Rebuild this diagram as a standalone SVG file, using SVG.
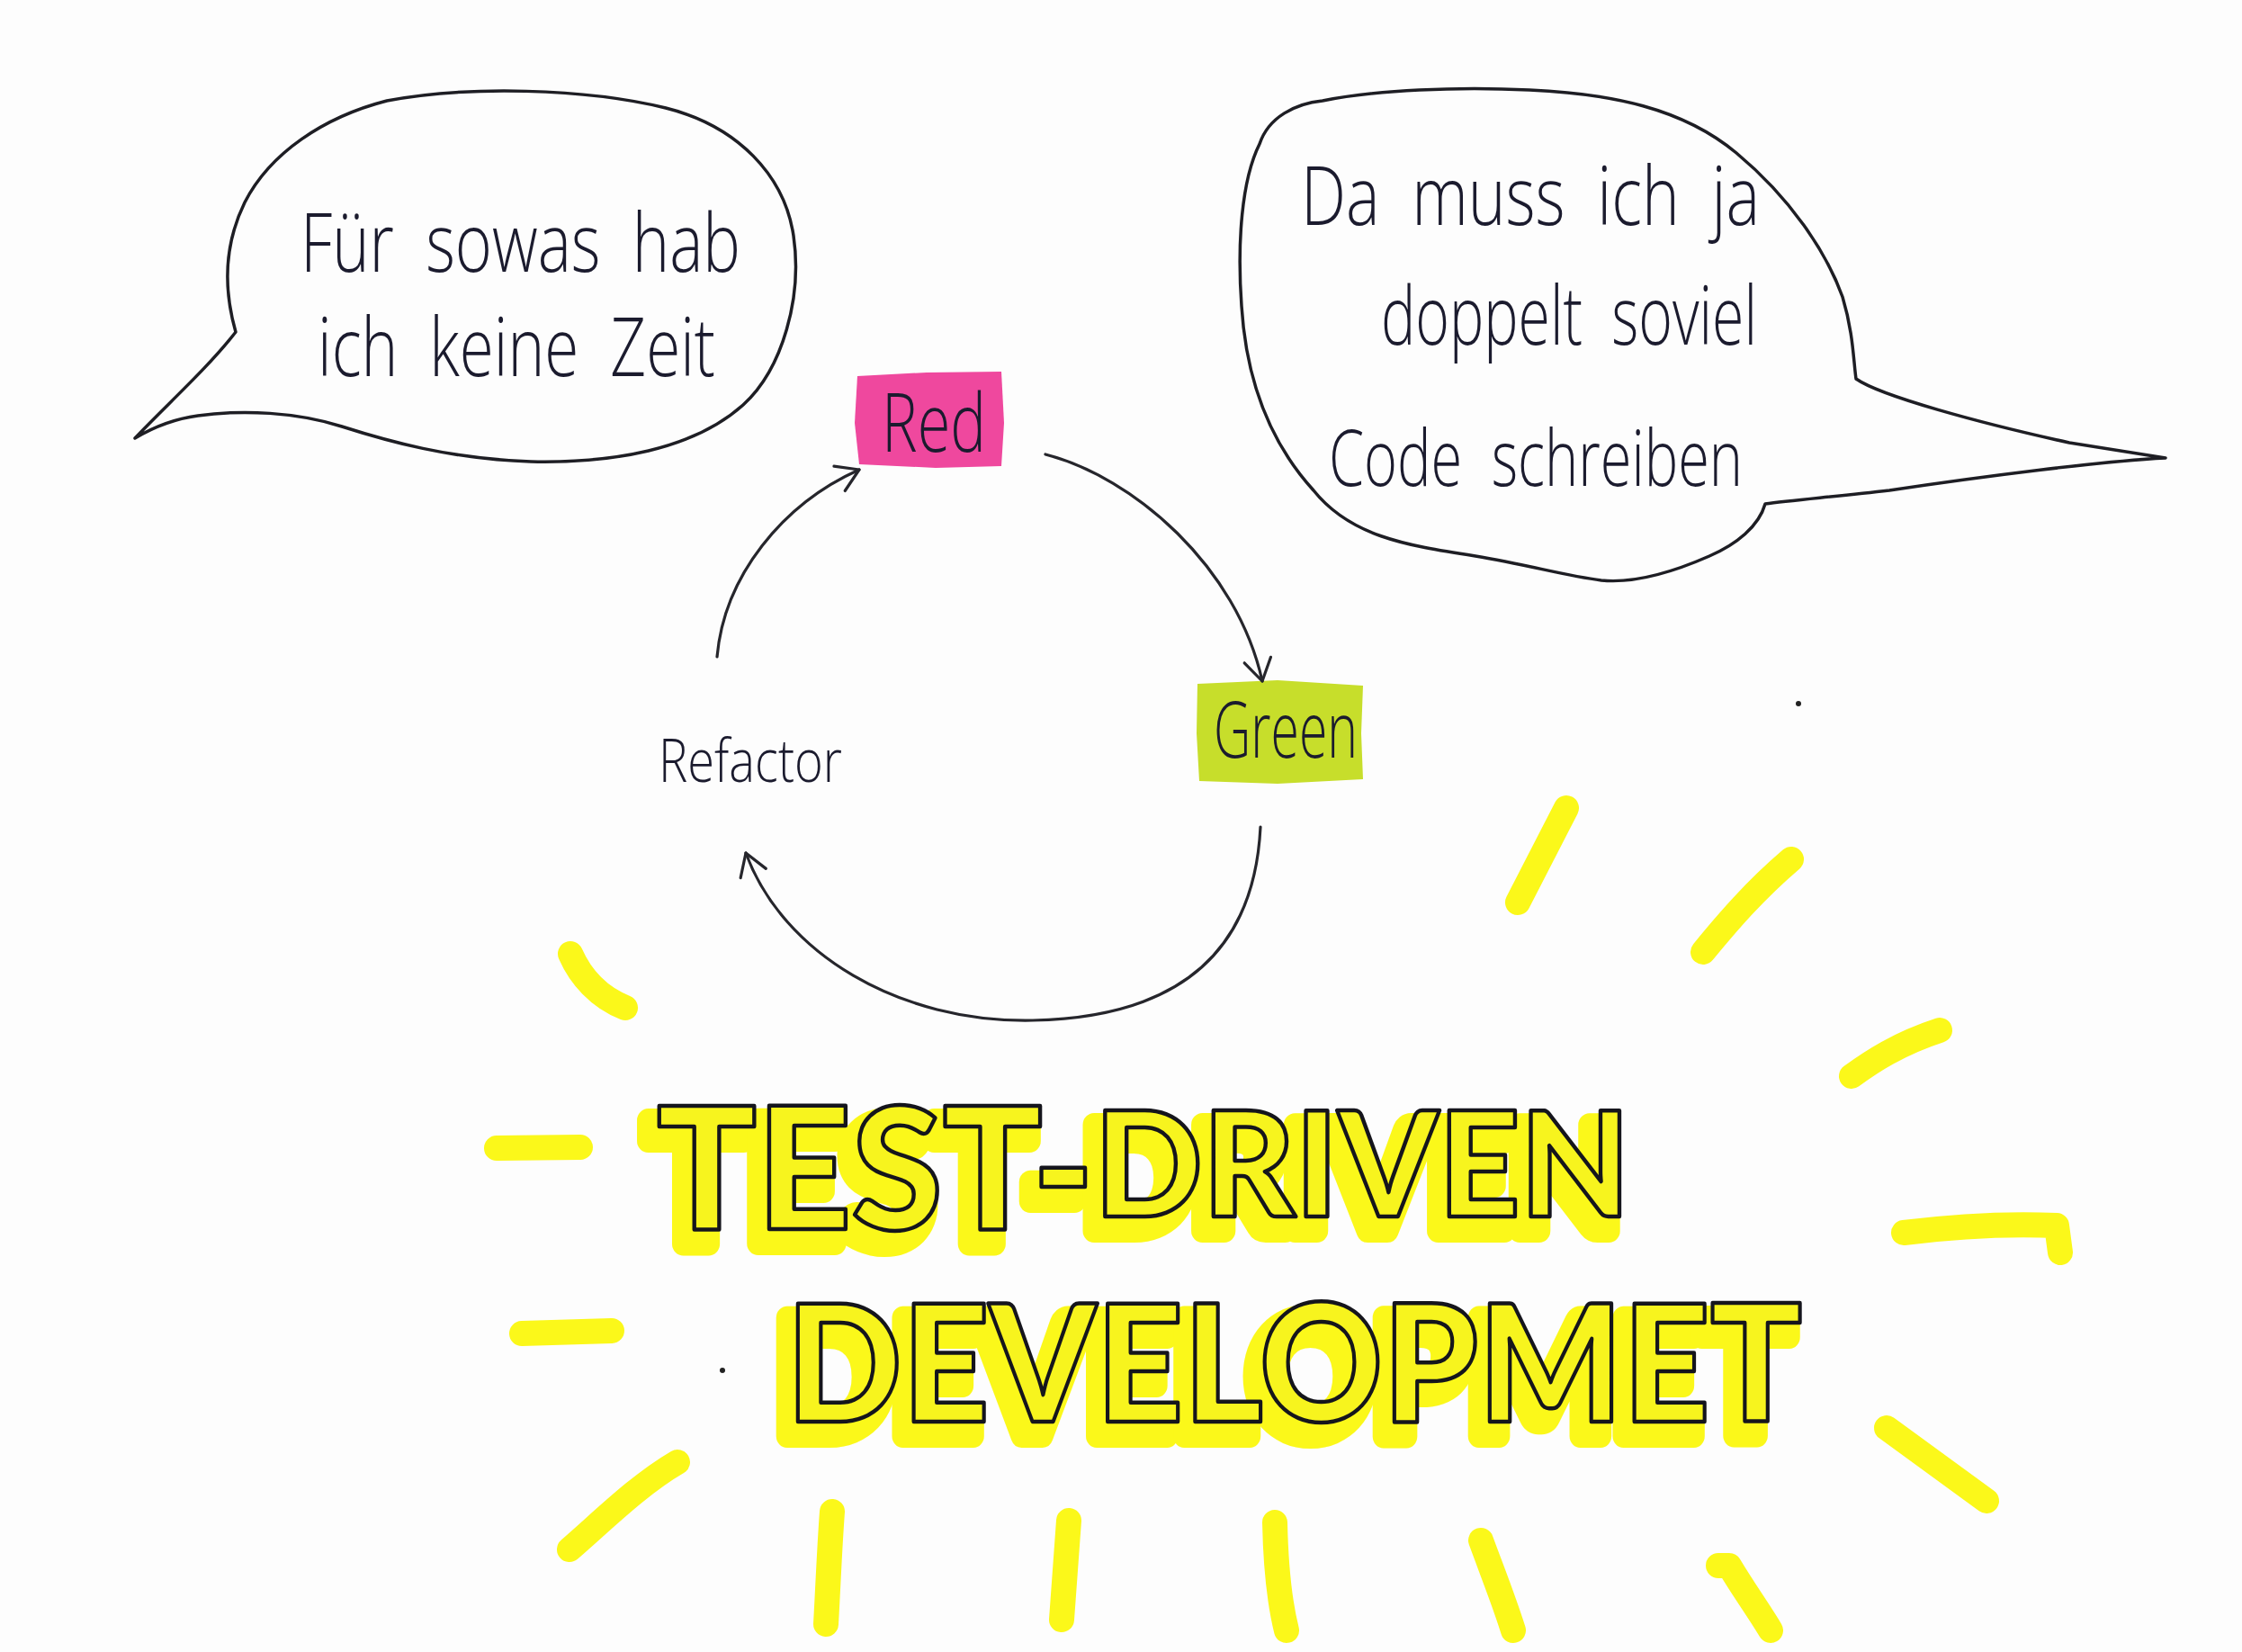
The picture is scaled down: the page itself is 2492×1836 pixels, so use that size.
<svg xmlns="http://www.w3.org/2000/svg" xmlns:xlink="http://www.w3.org/1999/xlink" width="2492" height="1836" viewBox="0 0 2492 1836">
<style>
.bubble{fill:none;stroke:#1e1e24;stroke-width:3.5;stroke-linejoin:round;stroke-linecap:round}
.hand{font-family:"Open Sans","DejaVu Sans",sans-serif;font-weight:300;fill:#1b1b2e}
.gap{word-spacing:22px}
.conn{fill:none;stroke:#26262c;stroke-width:3.2;stroke-linecap:round}
.ray{fill:none;stroke:#fbf81a;stroke-width:28;stroke-linecap:round;stroke-linejoin:round}
.title{font-family:Lato,Inter,"DejaVu Sans",sans-serif;font-weight:900}
</style>
<defs>
<marker id="arr" viewBox="-30 -20 34 40" refX="0" refY="0" markerWidth="34" markerHeight="40" markerUnits="userSpaceOnUse" orient="auto">
<path d="M-24,-15 L0,0 L-24,15" fill="none" stroke="#26262c" stroke-width="3.2" stroke-linecap="round" stroke-linejoin="round"/>
</marker>
<text id="t1" class="title" x="730" y="1366" font-size="188" textLength="1082" lengthAdjust="spacingAndGlyphs">TEST-<tspan font-size="162" dy="-14">DRIVEN</tspan></text>
<text id="t2" class="title" x="874" y="1580" font-size="182" textLength="1129" lengthAdjust="spacingAndGlyphs">DEVELOPMET</text>
</defs>
<rect width="2492" height="1836" fill="#fdfdfd"/>

<g id="rays">
<path class="ray" d="M1741,898 L1687,1003"/>
<path class="ray" d="M1991,955 C1950,990 1920,1025 1893,1058"/>
<path class="ray" d="M2156,1145 C2110,1160 2080,1180 2058,1196"/>
<path class="ray" d="M2116,1370 C2180,1362 2240,1360 2286,1362 L2290,1392"/>
<path class="ray" d="M2097,1587 L2208,1668"/>
<path class="ray" d="M1910,1740 L1922,1740 C1940,1770 1955,1790 1968,1812"/>
<path class="ray" d="M1646,1712 C1660,1750 1672,1780 1682,1812"/>
<path class="ray" d="M1417,1692 C1418,1740 1422,1780 1430,1812"/>
<path class="ray" d="M1188,1690 C1185,1730 1182,1770 1180,1800"/>
<path class="ray" d="M925,1680 C922,1720 920,1770 918,1805"/>
<path class="ray" d="M753,1625 C710,1650 670,1690 633,1722"/>
<path class="ray" d="M580,1482 L680,1479"/>
<path class="ray" d="M552,1276 L645,1275"/>
<path class="ray" d="M634,1060 C645,1085 665,1108 695,1120"/>
</g>

<g id="title">
<use xlink:href="#t1" transform="translate(-12,16)" fill="#fbf81a" stroke="#fbf81a" stroke-width="26" stroke-linejoin="round"/>
<use xlink:href="#t2" transform="translate(-12,16)" fill="#fbf81a" stroke="#fbf81a" stroke-width="26" stroke-linejoin="round"/>
<use xlink:href="#t1" fill="#f7f41e" stroke="#15151c" stroke-width="4.5" stroke-linejoin="round"/>
<use xlink:href="#t2" fill="#f7f41e" stroke="#15151c" stroke-width="4.5" stroke-linejoin="round"/>
</g>

<g id="bubble-left">
<path class="bubble" d="M150,487 C185,450 230,410 262,369 C248,320 250,270 272,225 C300,170 360,130 430,112 C520,95 650,98 740,120 C820,140 872,195 882,262 C892,330 870,410 826,450 C770,500 680,515 590,513 C500,510 430,490 380,474 C330,458 270,455 220,462 C190,466 165,478 150,487 Z"/>
<text class="hand gap" x="334" y="302" font-size="90" textLength="489" lengthAdjust="spacingAndGlyphs">Für sowas hab</text>
<text class="hand gap" x="353" y="418" font-size="90" textLength="442" lengthAdjust="spacingAndGlyphs">ich keine Zeit</text>
</g>

<g id="bubble-right">
<path class="bubble" d="M2063,421 C2090,440 2200,470 2300,492 L2407,509 C2340,512 2200,530 2100,545 C2040,552 1990,556 1962,560 C1955,585 1930,605 1900,618 C1850,640 1810,648 1780,645 C1740,640 1700,628 1640,618 C1560,606 1500,595 1460,545 C1410,490 1385,420 1380,340 C1375,270 1380,200 1400,160 C1410,130 1440,115 1470,112 C1530,100 1620,96 1700,100 C1790,104 1870,120 1930,170 C1990,220 2030,280 2048,330 C2060,370 2060,400 2063,421 Z"/>
<text class="hand gap" x="1446" y="250" font-size="90" textLength="510" lengthAdjust="spacingAndGlyphs">Da muss ich ja</text>
<text class="hand gap" x="1535" y="383" font-size="90" textLength="418" lengthAdjust="spacingAndGlyphs">doppelt soviel</text>
<text class="hand gap" x="1477" y="540" font-size="86" textLength="460" lengthAdjust="spacingAndGlyphs">Code schreiben</text>
</g>

<g id="node-red">
<path d="M953,418 L1030,414 L1113,413 L1116,470 L1113,518 L1040,520 L955,516 L950,470 Z" fill="#ef489e"/>
<text class="hand" x="980" y="502" font-size="90" textLength="116" lengthAdjust="spacingAndGlyphs">Red</text>
</g>

<g id="node-green">
<path d="M1331,760 L1420,756 L1515,762 L1513,815 L1515,866 L1420,871 L1333,868 L1330,815 Z" fill="#c7de2b"/>
<text class="hand" x="1349" y="842" font-size="86" textLength="160" lengthAdjust="spacingAndGlyphs">Green</text>
</g>

<g id="node-refactor">
<text class="hand" x="732" y="869" font-size="66" textLength="204" lengthAdjust="spacingAndGlyphs">Refactor</text>
</g>

<g id="connectors">
<path class="conn" marker-end="url(#arr)" d="M1162,505 C1260,530 1375,630 1403,757"/>
<path class="conn" marker-end="url(#arr)" d="M1401,919 C1395,1040 1330,1130 1148,1134 C1000,1137 870,1060 829,948"/>
<path class="conn" marker-end="url(#arr)" d="M797,730 C805,640 870,560 955,522"/>
</g>

<circle cx="803" cy="1523" r="3" fill="#222"/>
<circle cx="1999" cy="782" r="3" fill="#222"/>
</svg>
